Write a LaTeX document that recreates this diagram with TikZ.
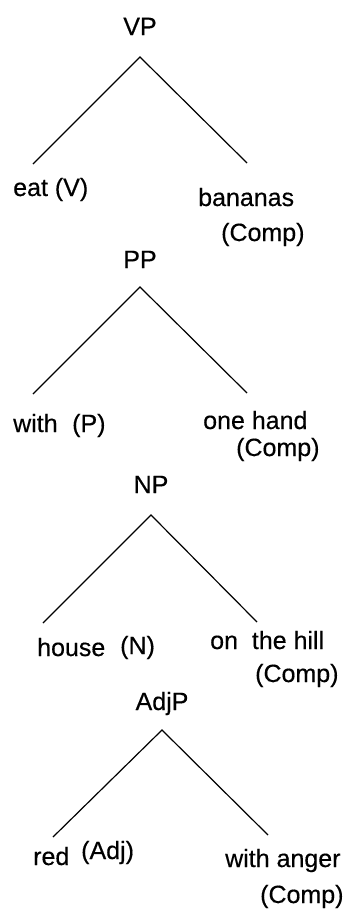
\documentclass[tikz,border=0pt]{standalone}
\usepackage{fontspec}
\setmainfont{Liberation Sans}[FakeBold=0.4]
\usetikzlibrary{positioning}

\begin{document}
\begin{tikzpicture}[
    x=1pt, y=-1pt,
    cat/.style={inner sep=0pt, anchor=base, font=\fontsize{25}{30}\selectfont},
    word/.style={inner sep=0pt, anchor=base west, font=\fontsize{25}{30}\selectfont},
    branch/.style={draw=black, line width=1.2pt}
]
    \useasboundingbox (0,0) rectangle (345,913);

    % --- VP: eat bananas ---
    \node [cat] (vp) at (140,35) {VP};
    \coordinate (vp_top) at (140,57);
    \coordinate (vp_left) at (33,164);
    \coordinate (vp_right) at (247,163);
    \node [word] (eat) at (13,196) {eat (V)};
    \node [word] (bananas) at (198,206) {bananas};
    \node [word] (vp_comp) at (221,241) {(Comp)};

    % --- PP: with one hand ---
    \node [cat] (pp) at (140,268) {PP};
    \coordinate (pp_top) at (140,287);
    \coordinate (pp_left) at (33,394);
    \coordinate (pp_right) at (247,393);
    \node [word] (with) at (13,432) {with};
    \node [word] (p) at (72,432) {(P)};
    \node [word] (hand) at (203,429) {one hand};
    \node [word] (pp_comp) at (236,456) {(Comp)};

    % --- NP: house on the hill ---
    \node [cat] (np) at (151,493) {NP};
    \coordinate (np_top) at (151,515);
    \coordinate (np_left) at (43,623);
    \coordinate (np_right) at (257,622);
    \node [word] (house) at (37,656) {house};
    \node [word] (n) at (120,654) {(N)};
    \node [word] (hill) at (210,649) {on\ \ the hill};
    \node [word] (np_comp) at (255,682) {(Comp)};

    % --- AdjP: red with anger ---
    \node [cat] (adjp) at (162,710) {AdjP};
    \coordinate (adjp_top) at (162,730);
    \coordinate (adjp_left) at (53,837);
    \coordinate (adjp_right) at (268,835);
    \node [word] (red) at (33,865) {red};
    \node [word] (adj) at (81,859) {(Adj)};
    \node [word] (anger) at (225,867) {with anger};
    \node [word] (adjp_comp) at (260,903) {(Comp)};

    % --- BRANCHES ---
    \path [branch] (vp_left) -- (vp_top) -- (vp_right);
    \path [branch] (pp_left) -- (pp_top) -- (pp_right);
    \path [branch] (np_left) -- (np_top) -- (np_right);
    \path [branch] (adjp_left) -- (adjp_top) -- (adjp_right);

\end{tikzpicture}
\end{document}
